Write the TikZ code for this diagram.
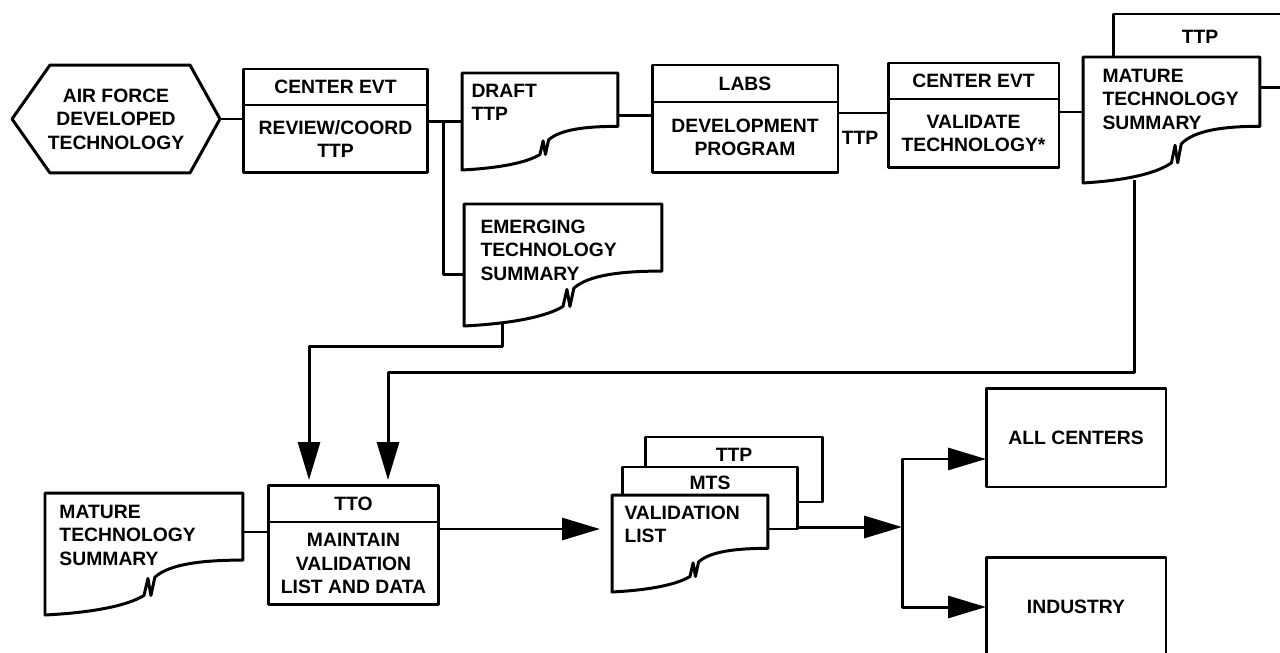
\documentclass[tikz,border=0pt]{standalone}
\usepackage{fontspec}
\setmainfont{Liberation Sans}
\usetikzlibrary{arrows.meta,calc,positioning}

% torn-bottom document outline over a bounding node
\newcommand{\docpage}[1]{%
  \begin{scope}[shift={(#1.north west)},
      x={($(#1.north east)-(#1.north west)$)},
      y={($(#1.south west)-(#1.north west)$)}]
    \draw[fill=white] (0,1) -- (0,0) -- (1,0) -- (1,0.55)
      .. controls (0.8,0.55) and (0.63,0.58) .. (0.555,0.69)
      -- (0.535,0.84) -- (0.52,0.7) -- (0.5,0.84)
      .. controls (0.42,0.92) and (0.25,0.98) .. (0,1) -- cycle;
  \end{scope}}

\begin{document}
\begin{tikzpicture}[x=0.02cm, y=-0.02cm, line width=1.7pt, line join=round,
    every node/.style={font=\bfseries\fontsize{11}{13.4}\selectfont},
    box/.style={draw, inner sep=0pt, outer sep=0pt, align=center},
    docnode/.style={inner sep=0pt, outer sep=0pt, anchor=north west},
    page/.style={draw, fill=white, inner sep=0pt, outer sep=0pt, anchor=north west},
    doctext/.style={anchor=west, align=left, inner sep=0pt},
    flowarrow/.style={-{Triangle[length=0.76cm,width=0.44cm]}}]

  \useasboundingbox (0,0) rectangle (1280,652);

  % top row
  \node[inner sep=0pt, outer sep=0pt, minimum width=4.16cm, minimum height=2.16cm, align=center] (af) at (116,119) {AIR FORCE\\DEVELOPED\\TECHNOLOGY};
  \draw (af.west) -- ($(af.north west)+(38,0)$) -- ($(af.north east)+(-30,0)$) -- (af.east)
    -- ($(af.south east)+(-30,0)$) -- ($(af.south west)+(38,0)$) -- cycle;

  \node[box, minimum width=3.7cm, minimum height=0.72cm] (revh) at (335.5,87) {CENTER EVT};
  \node[box, minimum width=3.7cm, minimum height=1.36cm, below=0pt of revh] (rev) {REVIEW/COORD\\TTP};

  \node[docnode, minimum width=3.12cm, minimum height=1.94cm] (draft) at (462,73) {};
  \docpage{draft}
  \node[doctext] (drafttxt) at (470,102.5) {DRAFT\\TTP};

  \node[box, minimum width=3.72cm, minimum height=0.74cm] (labsh) at (745,83.5) {LABS};
  \node[box, minimum width=3.72cm, minimum height=1.42cm, below=0pt of labsh] (labs) {DEVELOPMENT\\PROGRAM};

  \node (ttplbl) at (860,138) {TTP};

  \node[box, minimum width=3.42cm, minimum height=0.72cm] (valh) at (973.5,81) {CENTER EVT};
  \node[box, minimum width=3.42cm, minimum height=1.38cm, below=0pt of valh] (val) {VALIDATE\\TECHNOLOGY*};

  \node[page, minimum width=3.94cm, minimum height=1.48cm] (mtsb) at (1113,14) {};
  \node (mtsbtxt) at (1200,37) {TTP};
  \node[docnode, minimum width=3.54cm, minimum height=2.52cm] (mts) at (1083,57) {};
  \docpage{mts}
  \node[doctext] (mtstxt) at (1101,99) {MATURE\\TECHNOLOGY\\SUMMARY};

  \node[docnode, minimum width=3.96cm, minimum height=2.44cm] (emerg) at (464,204) {};
  \docpage{emerg}
  \node[doctext] (emergtxt) at (479,250) {EMERGING\\TECHNOLOGY\\SUMMARY};

  % bottom row
  \node[docnode, minimum width=3.96cm, minimum height=2.44cm] (mtsl) at (45,493) {};
  \docpage{mtsl}
  \node[doctext] (mtsltxt) at (58,535) {MATURE\\TECHNOLOGY\\SUMMARY};

  \node[box, minimum width=3.42cm, minimum height=0.74cm] (ttoh) at (353.5,503.5) {TTO};
  \node[box, minimum width=3.42cm, minimum height=1.66cm, below=0pt of ttoh] (tto) {MAINTAIN\\VALIDATION\\LIST AND DATA};

  \node[page, minimum width=3.56cm, minimum height=1.3cm] (vttp) at (645,437) {};
  \node (vttptxt) at (734,455) {TTP};
  \node[page, minimum width=3.52cm, minimum height=1.24cm] (vmts) at (622,467) {};
  \node (vmtstxt) at (710,483) {MTS};
  \node[docnode, minimum width=3.12cm, minimum height=1.94cm] (vlist) at (612,495) {};
  \docpage{vlist}
  \node[doctext] (vlisttxt) at (623,524.5) {VALIDATION\\LIST};

  \node[box, minimum width=3.6cm, minimum height=1.98cm] (allc) at (1076,437.5) {ALL CENTERS};
  \node[box, minimum width=3.6cm, minimum height=2cm] (ind) at (1076,607) {INDUSTRY};

  % connectors
  \coordinate (emin) at ($(emerg.west)+(0,10)$);
  \coordinate (dout) at ($(draft.east)+(0,-6)$);
  \coordinate (lout) at ($(labs.north east)+(0,11)$);
  \coordinate (vout) at ($(val.north east)+(0,13)$);
  \coordinate (mdown) at ($(mts.south west)+(51,-3)$);
  \coordinate (edown) at ($(emerg.south west)+(38,-2)$);
  \coordinate (ttoinA) at ($(ttoh.north west)+(41,0)$);
  \coordinate (ttoinB) at ($(ttoh.north west)+(120,0)$);
  \coordinate (tin) at ($(tto.north west)+(0,10)$);
  \coordinate (tout) at ($(tto.north east)+(0,7)$);
  \coordinate (jn) at (902,527);
  \coordinate (acin) at ($(allc.south west)+(0,-28)$);

  \draw (af.east) -- (af.east -| rev.west);
  \draw (rev.east |- draft.west) -- (draft.west);
  \draw (rev.east |- draft.west) ++(16,0) |- (emin);
  \draw (dout) -- (dout -| labs.west);
  \draw (lout) -- (lout -| val.west);
  \draw (vout) -- (vout -| mts.west);

  \draw[flowarrow, shorten >=0.1cm] (mdown) -- ++(0,193) -| (ttoinB);
  \draw[flowarrow, shorten >=0.1cm] (edown) -- ++(0,23) -| (ttoinA);

  \draw (tin -| mtsl.east) -- (tin);
  \draw[flowarrow, shorten >=0.24cm] (tout) -- (tout -| vlist.west);
  \draw[flowarrow] (jn -| vmts.east) -- (jn);
  \draw[flowarrow] (jn) |- (acin);
  \draw[flowarrow] (jn) |- (ind.west);
\end{tikzpicture}
\end{document}
